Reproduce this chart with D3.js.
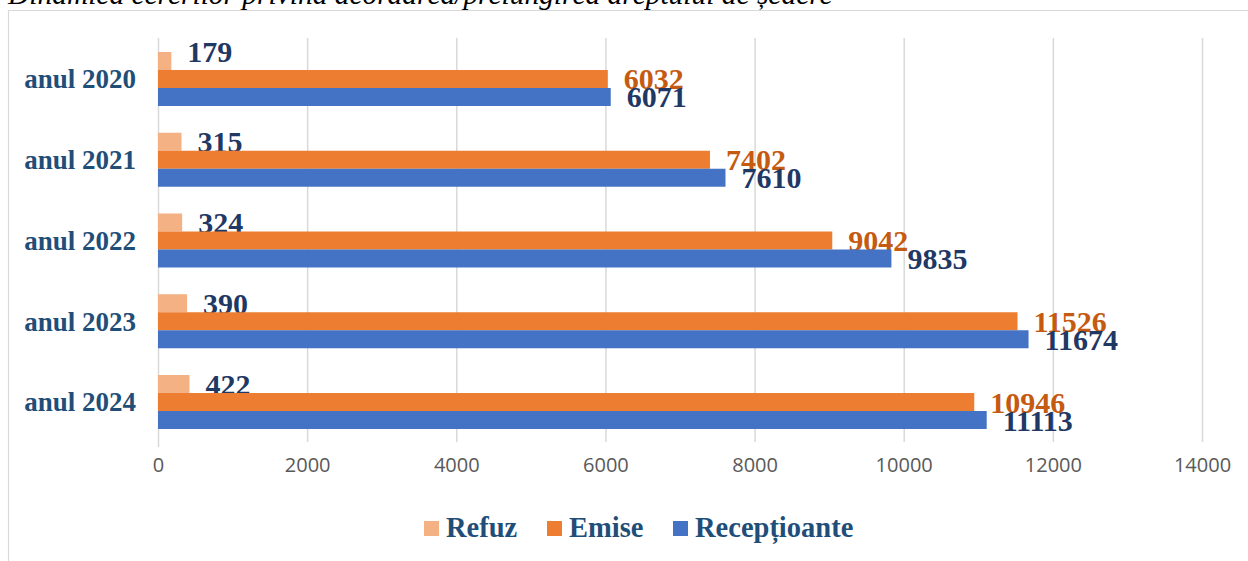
<!DOCTYPE html>
<html><head><meta charset="utf-8">
<script src="https://cdn.jsdelivr.net/npm/d3@7/dist/d3.min.js"></script>
<style>
html,body{margin:0;padding:0;background:#fff;}
svg{display:block;}
</style></head>
<body><svg id="c" width="1248" height="561"></svg>
<script>
const title = "Dinamica cererilor privind acordarea/prelungirea dreptului de ședere";
const categories = ["anul 2020","anul 2021","anul 2022","anul 2023","anul 2024"];
const seriesNames = ["Refuz","Emise","Recepțioante"];
const refuz = [179,315,324,390,422];
const emise = [6032,7402,9042,11526,10946];
const receptionate = [6071,7610,9835,11674,11113];
const xTicks = [0,2000,4000,6000,8000,10000,12000,14000];
const legendLabels = ["Refuz","Emise","Recepțioante"];

const colors = ["#F4B183","#ED7D31","#4472C4"];
const labelColors = ["#1F3864","#C55A11","#1F3864"];
const values = [refuz, emise, receptionate];

const svg = d3.select("#c");
const serif = "'Liberation Serif','Times New Roman',serif";

// frame
svg.append("path").attr("d","M8.5,561 V10.5 H1248").attr("fill","none").attr("stroke","#D9D9D9").attr("stroke-width",1.2);

// title (cut off at top as in reference)
const t = svg.append("text").attr("x",8).attr("y",4)
  .attr("font-family",serif).attr("font-style","italic").attr("font-size",29)
  .attr("fill","#000").text(title);
const tw = t.node().getComputedTextLength();
t.attr("font-size", 29*825/tw);

const x = d3.scaleLinear().domain([0,14000]).range([158,1202]);
const y = d3.scaleBand().domain(categories).range([38.6,442.4]);
const yi = d3.scaleBand().domain(seriesNames).range([0,y.bandwidth()]).paddingOuter(0.743);

// gridlines
svg.append("g").selectAll("line").data(xTicks).join("line")
  .attr("x1",d=>x(d)+0.5).attr("x2",d=>x(d)+0.5)
  .attr("y1",38).attr("y2",d=>d===0?447:442)
  .attr("stroke","#D9D9D9").attr("stroke-width",1.5);

// x axis labels via d3 axis
const ax = svg.append("g").attr("transform","translate(0,458)")
  .call(d3.axisBottom(x).tickValues(xTicks).tickSize(0).tickPadding(0).tickFormat(d3.format("d")));
ax.select(".domain").remove();
ax.selectAll("text").attr("font-family","'Open Sans',sans-serif").attr("font-size",20)
  .attr("fill","#595959").attr("dy","0.71em");

// category labels
svg.append("g").selectAll("text").data(categories).join("text")
  .attr("x",136).attr("y",d=>y(d)+y.bandwidth()/2)
  .attr("dy","0.35em").attr("text-anchor","end")
  .attr("font-family",serif).attr("font-weight","bold").attr("font-size",27)
  .attr("fill","#1F4E79").text(d=>d);

// bars and labels
seriesNames.forEach((s,si)=>{
  const g = svg.append("g");
  const data = categories.map((c,i)=>({c, v: values[si][i], i}));
  g.selectAll("rect").data(data).join("rect")
    .attr("x",x(0)).attr("y",d=>y(d.c)+yi(s))
    .attr("width",d=>x(d.v)-x(0)).attr("height",yi.bandwidth())
    .attr("fill",colors[si]);
  g.selectAll("text").data(data).join("text")
    .attr("x",d=>x(d.v)+16)
    .attr("y",d=>y(d.c)+yi(s)+yi.bandwidth()/2 - ((si===0 && d.i===0)?9:0))
    .attr("dy","0.35em")
    .attr("font-family",serif).attr("font-weight","bold").attr("font-size",30)
    .attr("fill",labelColors[si]).text(d=>d.v);
});

// legend
const legendX = [424,547,673];
const lg = svg.append("g");
legendLabels.forEach((l,i)=>{
  lg.append("rect").attr("x",legendX[i]).attr("y",521).attr("width",15).attr("height",15).attr("fill",colors[i]);
  lg.append("text").attr("x",legendX[i]+22).attr("y",537)
    .attr("font-family",serif).attr("font-weight","bold").attr("font-size",28.5)
    .attr("fill","#1F4E79").text(l);
});
</script></body></html>
